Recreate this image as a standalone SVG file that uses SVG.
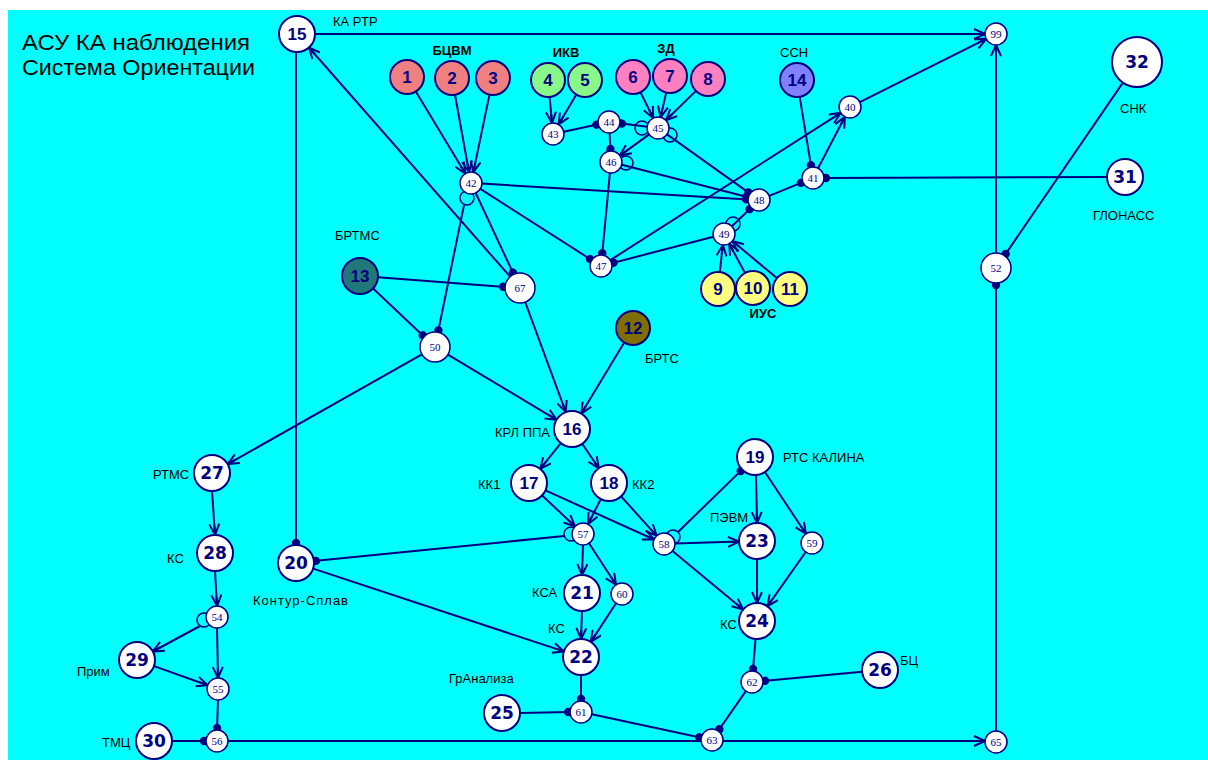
<svg xmlns="http://www.w3.org/2000/svg" width="1208" height="760" viewBox="0 0 1208 760">
<style>
.e{stroke:#000080;stroke-width:2;fill:none}
.a{marker-end:url(#arr)}
.d{marker-end:url(#dot)}
.lp{stroke:#000080;stroke-width:1.6;fill:none}
.n circle{stroke:#000080;stroke-width:2}
.s circle{fill:#fff;stroke:#000080;stroke-width:1.5}
.n text{font-family:"Liberation Sans",Arial,sans-serif;font-weight:bold;font-size:17px;fill:#000080;text-anchor:middle}
.n text.w{font-family:"DejaVu Sans",sans-serif;font-size:17px}
.s text{font-family:"Liberation Serif","Times New Roman",serif;font-size:11px;fill:#000080;text-anchor:middle}
.n text.lb,.lb{font-family:"Liberation Sans",Arial,sans-serif;font-size:13px;font-weight:normal;fill:#000;text-anchor:start}
.n text.le{text-anchor:end}
.bl{font-family:"Liberation Sans",Arial,sans-serif;font-size:13px;font-weight:bold;fill:#000;text-anchor:middle}
.tt{font-family:"Liberation Sans",Arial,sans-serif;font-size:22px;fill:#000}
</style>
<defs>
<marker id="arr" markerUnits="userSpaceOnUse" markerWidth="14" markerHeight="12" refX="12" refY="6" orient="auto" viewBox="0 0 14 12"><path d="M1,1 L12,6 L1,11 M3,6 L12,6" fill="none" stroke="#000080" stroke-width="2"/></marker>
<marker id="dot" markerUnits="userSpaceOnUse" markerWidth="10" markerHeight="10" refX="7" refY="5" orient="auto" viewBox="0 0 10 10"><circle cx="5" cy="5" r="4.2" fill="#000080"/></marker>
</defs>
<rect x="0" y="0" width="1208" height="760" fill="#fff"/>
<rect x="8" y="10" width="1200" height="750" fill="#00ffff"/>
<text class="tt" x="22" y="50" textLength="228" lengthAdjust="spacingAndGlyphs">АСУ КА наблюдения</text>
<text class="tt" x="22" y="75" textLength="233" lengthAdjust="spacingAndGlyphs">Система Ориентации</text>
<text class="bl" x="452" y="55">БЦВМ</text>
<text class="bl" x="566" y="57">ИКВ</text>
<text class="bl" x="666" y="53">ЗД</text>
<text class="bl" x="763" y="318">ИУС</text>
<g id="connectors">
<line class="e a" x1="315" y1="34" x2="985" y2="34"/>
<line class="e d" x1="296" y1="52" x2="296" y2="545"/>
<line class="e a" x1="510.1" y1="276.7" x2="308.9" y2="47.5"/>
<line class="e a" x1="415.8" y1="91.6" x2="465.3" y2="173.6"/>
<line class="e a" x1="455" y1="94.7" x2="469" y2="172.2"/>
<line class="e a" x1="489.5" y1="94.6" x2="473.3" y2="172.2"/>
<line class="e a" x1="549.6" y1="96.9" x2="552" y2="123"/>
<line class="e a" x1="576.3" y1="94.6" x2="558.6" y2="124.5"/>
<line class="e d" x1="563.7" y1="131.7" x2="598.3" y2="124.3"/>
<line class="e d" x1="647.1" y1="126.7" x2="619.9" y2="123.3"/>
<line class="e d" x1="609.6" y1="133" x2="610.5" y2="151"/>
<line class="e a" x1="640.5" y1="92.3" x2="653.2" y2="118.1"/>
<line class="e a" x1="666.2" y1="92.6" x2="660.5" y2="117.3"/>
<line class="e a" x1="695.9" y1="90.9" x2="665.9" y2="120.3"/>
<line class="e a" x1="649.1" y1="134.4" x2="619.9" y2="155.6"/>
<line class="e d" x1="667" y1="134.4" x2="750" y2="193.6"/>
<line class="e d" x1="621.7" y1="164.7" x2="748.3" y2="197.3"/>
<line class="e d" x1="609.9" y1="172.9" x2="602.1" y2="255.1"/>
<line class="e d" x1="482" y1="183.6" x2="748" y2="199.4"/>
<line class="e d" x1="480.3" y1="188.9" x2="591.7" y2="260.1"/>
<line class="e d" x1="475.7" y1="193" x2="513.7" y2="274.4"/>
<line class="e d" x1="464" y1="205" x2="438" y2="332.3"/>
<line class="e a" x1="610.3" y1="260.1" x2="840.7" y2="112.9"/>
<line class="e d" x1="713.4" y1="236.8" x2="611.6" y2="263.2"/>
<line class="e d" x1="731.9" y1="226.3" x2="751.1" y2="207.7"/>
<line class="e d" x1="769.2" y1="195.9" x2="802.8" y2="182.1"/>
<line class="e d" x1="799.7" y1="96.8" x2="811.2" y2="167.1"/>
<line class="e d" x1="1107" y1="177" x2="824" y2="178"/>
<line class="e a" x1="818.1" y1="168.3" x2="844.9" y2="116.7"/>
<line class="e a" x1="859.8" y1="102.1" x2="986.2" y2="38.9"/>
<line class="e a" x1="996" y1="253" x2="996" y2="45"/>
<line class="e d" x1="1122.9" y1="82.6" x2="1004.5" y2="255.6"/>
<line class="e d" x1="996" y1="731" x2="996" y2="283"/>
<line class="e a" x1="719.8" y1="272.1" x2="722.8" y2="244.9"/>
<line class="e a" x1="745" y1="273" x2="729.2" y2="243.7"/>
<line class="e a" x1="776.9" y1="278.1" x2="732.4" y2="241"/>
<line class="e d" x1="377.9" y1="277.3" x2="505" y2="286.9"/>
<line class="e d" x1="373.1" y1="288.4" x2="424.1" y2="336.7"/>
<line class="e a" x1="525.2" y1="302.1" x2="565.8" y2="412.1"/>
<line class="e a" x1="447.9" y1="354.7" x2="556.6" y2="419.8"/>
<line class="e a" x1="624.2" y1="342.6" x2="581.3" y2="413.6"/>
<line class="e a" x1="421.9" y1="354.4" x2="227.7" y2="464.1"/>
<line class="e a" x1="560.8" y1="443.1" x2="540.2" y2="468.9"/>
<line class="e a" x1="582.2" y1="443.8" x2="598.8" y2="468.2"/>
<line class="e a" x1="542.1" y1="495.4" x2="575" y2="526.4"/>
<line class="e a" x1="545.4" y1="490.4" x2="654" y2="539.5"/>
<line class="e a" x1="600.8" y1="499" x2="588" y2="524.2"/>
<line class="e a" x1="621.1" y1="496.4" x2="656.6" y2="535.8"/>
<line class="e d" x1="564" y1="536" x2="313.9" y2="561.1"/>
<line class="e a" x1="583" y1="545" x2="582" y2="575"/>
<line class="e a" x1="589" y1="543.2" x2="616" y2="584.8"/>
<line class="e d" x1="678" y1="532" x2="742.1" y2="469.6"/>
<line class="e a" x1="675" y1="543.6" x2="739" y2="541.6"/>
<line class="e a" x1="672.5" y1="551" x2="743.1" y2="609.5"/>
<line class="e a" x1="756" y1="475" x2="757" y2="523"/>
<line class="e a" x1="764.9" y1="472" x2="805.9" y2="533.8"/>
<line class="e a" x1="757" y1="559" x2="757" y2="603"/>
<line class="e a" x1="805.7" y1="552" x2="767.4" y2="606.3"/>
<line class="e a" x1="313.1" y1="568.6" x2="563.9" y2="651.4"/>
<line class="e a" x1="582" y1="611" x2="581" y2="639"/>
<line class="e a" x1="616" y1="603.2" x2="590.8" y2="641.9"/>
<line class="e d" x1="581" y1="675" x2="581" y2="701"/>
<line class="e d" x1="520" y1="713" x2="570" y2="712"/>
<line class="e d" x1="591.8" y1="714.3" x2="701.2" y2="737.7"/>
<line class="e d" x1="755.5" y1="638.9" x2="752.9" y2="671"/>
<line class="e d" x1="862.1" y1="671.7" x2="763" y2="681"/>
<line class="e d" x1="745.8" y1="691.1" x2="718.2" y2="730.9"/>
<line class="e a" x1="228" y1="741" x2="985" y2="741"/>
<line class="e a" x1="212" y1="491" x2="215" y2="535"/>
<line class="e a" x1="215" y1="571" x2="217" y2="606"/>
<line class="e a" x1="200" y1="626" x2="152.8" y2="651.5"/>
<line class="e a" x1="217" y1="628" x2="218" y2="678"/>
<line class="e a" x1="154" y1="666.1" x2="207.6" y2="685.3"/>
<line class="e d" x1="218" y1="700" x2="217" y2="730"/>
<line class="e d" x1="172" y1="741" x2="206" y2="741"/>
<circle class="lp" cx="467" cy="198" r="7"/>
<circle class="lp" cx="642" cy="128" r="7"/>
<circle class="lp" cx="670" cy="135" r="7"/>
<circle class="lp" cx="626" cy="163" r="7"/>
<circle class="lp" cx="733" cy="224" r="7"/>
<circle class="lp" cx="204" cy="620" r="7"/>
<circle class="lp" cx="571" cy="534" r="7"/>
<circle class="lp" cx="673" cy="537" r="7"/>
</g>
<g id="n1" class="n"><circle cx="407" cy="77" r="17" fill="#f08080"/><text x="407" y="83">1</text></g>
<g id="n2" class="n"><circle cx="452" cy="78" r="17" fill="#f08080"/><text x="452" y="84">2</text></g>
<g id="n3" class="n"><circle cx="493" cy="78" r="17" fill="#f08080"/><text x="493" y="84">3</text></g>
<g id="n4" class="n"><circle cx="548" cy="80" r="17" fill="#88f888"/><text x="548" y="86">4</text></g>
<g id="n5" class="n"><circle cx="585" cy="80" r="17" fill="#88f888"/><text x="585" y="86">5</text></g>
<g id="n6" class="n"><circle cx="633" cy="77" r="17" fill="#ff80c0"/><text x="633" y="83">6</text></g>
<g id="n7" class="n"><circle cx="670" cy="76" r="17" fill="#ff80c0"/><text x="670" y="82">7</text></g>
<g id="n8" class="n"><circle cx="708" cy="79" r="17" fill="#ff80c0"/><text x="708" y="85">8</text></g>
<g id="n9" class="n"><circle cx="718" cy="289" r="17" fill="#ffff80"/><text x="718" y="295">9</text></g>
<g id="n10" class="n"><circle cx="753" cy="288" r="17" fill="#ffff80"/><text x="753" y="294">10</text></g>
<g id="n11" class="n"><circle cx="790" cy="289" r="17" fill="#ffff80"/><text x="790" y="295">11</text></g>
<g id="n12" class="n"><circle cx="633" cy="328" r="17" fill="#7f6e00"/><text x="633" y="334">12</text><text class="lb" x="645" y="363">БРТС</text></g>
<g id="n13" class="n"><circle cx="360" cy="276" r="18" fill="#207878"/><text x="360" y="282">13</text><text class="lb" x="335" y="240">БРТМС</text></g>
<g id="n14" class="n"><circle cx="797" cy="80" r="17" fill="#8080ff"/><text x="797" y="86">14</text><text class="lb" x="780" y="57">ССН</text></g>
<g id="n15" class="n"><circle cx="297" cy="34" r="18" fill="#fff"/><text x="297" y="40">15</text><text class="lb" x="333" y="26">КА РТР</text></g>
<g id="n16" class="n"><circle cx="572" cy="429" r="18" fill="#fff"/><text x="572" y="435">16</text><text class="lb le" x="550" y="437">КРЛ ППА</text></g>
<g id="n17" class="n"><circle cx="529" cy="483" r="18" fill="#fff"/><text x="529" y="489">17</text><text class="lb" x="478" y="489">КК1</text></g>
<g id="n18" class="n"><circle cx="609" cy="483" r="18" fill="#fff"/><text x="609" y="489">18</text><text class="lb" x="632" y="489">КК2</text></g>
<g id="n19" class="n"><circle cx="755" cy="457" r="18" fill="#fff"/><text x="755" y="463">19</text><text class="lb" x="783" y="462">РТС КАЛИНА</text></g>
<g id="n20" class="n"><circle cx="296" cy="563" r="18" fill="#fff"/><text class="w" x="296" y="569">20</text><text class="lb" x="253" y="605" textLength="95">Контур-Сплав</text></g>
<g id="n21" class="n"><circle cx="582" cy="593" r="18" fill="#fff"/><text class="w" x="582" y="599">21</text><text class="lb" x="532" y="597">КСА</text></g>
<g id="n22" class="n"><circle cx="581" cy="657" r="18" fill="#fff"/><text class="w" x="581" y="663">22</text><text class="lb" x="548" y="633">КС</text></g>
<g id="n23" class="n"><circle cx="757" cy="541" r="18" fill="#fff"/><text class="w" x="757" y="547">23</text><text class="lb" x="710" y="522">ПЭВМ</text></g>
<g id="n24" class="n"><circle cx="757" cy="621" r="18" fill="#fff"/><text class="w" x="757" y="627">24</text><text class="lb" x="720" y="629">КС</text></g>
<g id="n25" class="n"><circle cx="502" cy="713" r="18" fill="#fff"/><text class="w" x="502" y="719">25</text><text class="lb" x="449" y="683">ГрАнализа</text></g>
<g id="n26" class="n"><circle cx="880" cy="670" r="18" fill="#fff"/><text class="w" x="880" y="676">26</text><text class="lb" x="900" y="665">БЦ</text></g>
<g id="n27" class="n"><circle cx="212" cy="473" r="18" fill="#fff"/><text class="w" x="212" y="479">27</text><text class="lb" x="153" y="479">РТМС</text></g>
<g id="n28" class="n"><circle cx="215" cy="553" r="18" fill="#fff"/><text class="w" x="215" y="559">28</text><text class="lb" x="167" y="563">КС</text></g>
<g id="n29" class="n"><circle cx="137" cy="660" r="18" fill="#fff"/><text class="w" x="137" y="666">29</text><text class="lb" x="77" y="676">Прим</text></g>
<g id="n30" class="n"><circle cx="154" cy="741" r="18" fill="#fff"/><text class="w" x="154" y="747">30</text><text class="lb" x="102" y="747">ТМЦ</text></g>
<g id="n31" class="n"><circle cx="1125" cy="177" r="18" fill="#fff"/><text class="w" x="1125" y="183">31</text><text class="lb" x="1093" y="220">ГЛОНАСС</text></g>
<g id="n32" class="n"><circle cx="1137" cy="62" r="25" fill="#fff"/><text class="w" x="1137" y="68">32</text><text class="lb" x="1120" y="113">СНК</text></g>
<g id="n40" class="s"><circle cx="850" cy="107" r="11"/><text x="850" y="111">40</text></g>
<g id="n41" class="s"><circle cx="813" cy="178" r="11"/><text x="813" y="182">41</text></g>
<g id="n42" class="s"><circle cx="471" cy="183" r="11"/><text x="471" y="187">42</text></g>
<g id="n43" class="s"><circle cx="553" cy="134" r="11"/><text x="553" y="138">43</text></g>
<g id="n44" class="s"><circle cx="609" cy="122" r="11"/><text x="609" y="126">44</text></g>
<g id="n45" class="s"><circle cx="658" cy="128" r="11"/><text x="658" y="132">45</text></g>
<g id="n46" class="s"><circle cx="611" cy="162" r="11"/><text x="611" y="166">46</text></g>
<g id="n47" class="s"><circle cx="601" cy="266" r="11"/><text x="601" y="270">47</text></g>
<g id="n48" class="s"><circle cx="759" cy="200" r="11"/><text x="759" y="204">48</text></g>
<g id="n49" class="s"><circle cx="724" cy="234" r="11"/><text x="724" y="238">49</text></g>
<g id="n50" class="s"><circle cx="435" cy="347" r="15"/><text x="435" y="351">50</text></g>
<g id="n52" class="s"><circle cx="996" cy="268" r="15"/><text x="996" y="272">52</text></g>
<g id="n54" class="s"><circle cx="217" cy="617" r="11"/><text x="217" y="621">54</text></g>
<g id="n55" class="s"><circle cx="218" cy="689" r="11"/><text x="218" y="693">55</text></g>
<g id="n56" class="s"><circle cx="217" cy="741" r="11"/><text x="217" y="745">56</text></g>
<g id="n57" class="s"><circle cx="583" cy="534" r="11"/><text x="583" y="538">57</text></g>
<g id="n58" class="s"><circle cx="664" cy="544" r="11"/><text x="664" y="548">58</text></g>
<g id="n59" class="s"><circle cx="812" cy="543" r="11"/><text x="812" y="547">59</text></g>
<g id="n60" class="s"><circle cx="622" cy="594" r="11"/><text x="622" y="598">60</text></g>
<g id="n61" class="s"><circle cx="581" cy="712" r="11"/><text x="581" y="716">61</text></g>
<g id="n62" class="s"><circle cx="752" cy="682" r="11"/><text x="752" y="686">62</text></g>
<g id="n63" class="s"><circle cx="712" cy="740" r="11"/><text x="712" y="744">63</text></g>
<g id="n65" class="s"><circle cx="996" cy="742" r="11"/><text x="996" y="746">65</text></g>
<g id="n67" class="s"><circle cx="520" cy="288" r="15"/><text x="520" y="292">67</text></g>
<g id="n99" class="s"><circle cx="996" cy="34" r="11"/><text x="996" y="38">99</text></g>
</svg>
